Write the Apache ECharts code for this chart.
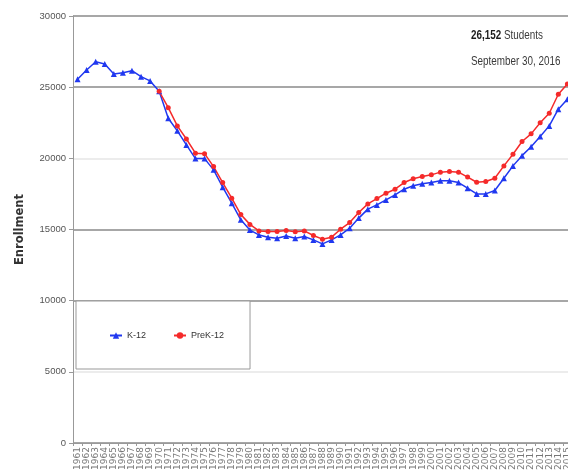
<!DOCTYPE html>
<html>
<head>
<meta charset="utf-8">
<title>Enrollment</title>
<script src="https://cdn.jsdelivr.net/npm/echarts@6/dist/echarts.min.js"></script>
<style>
  html, body { margin: 0; padding: 0; background: #fff; overflow: hidden; }
  /* the plot runs a little past the right edge of the page, as in the printed chart */
  #chart { width: 581px; height: 476px; }
</style>
</head>
<body>
<div id="chart"></div>
<script>
// School years 1961 - 2016
const years = [
  '1961','1962','1963','1964','1965','1966','1967','1968','1969','1970',
  '1971','1972','1973','1974','1975','1976','1977','1978','1979','1980',
  '1981','1982','1983','1984','1985','1986','1987','1988','1989','1990',
  '1991','1992','1993','1994','1995','1996','1997','1998','1999','2000',
  '2001','2002','2003','2004','2005','2006','2007','2008','2009','2010',
  '2011','2012','2013','2014','2015','2016'
];

// K-12 enrollment
const k12 = [
  25560, 26210, 26790, 26630, 25930, 26020, 26160, 25740, 25440, 24710,
  22820, 21930, 20940, 19980, 19980, 19190, 17970, 16850, 15680, 14960,
  14620, 14460, 14390, 14550, 14390, 14510, 14270, 13990, 14270, 14620,
  15090, 15800, 16430, 16730, 17080, 17430, 17830, 18070, 18210, 18300,
  18420, 18420, 18300, 17900, 17500, 17500, 17740, 18600, 19470, 20190,
  20820, 21530, 22280, 23450, 24150, 25050
];

// PreK-12 enrollment (reported from 1970 on)
const prek12 = [
  null, null, null, null, null, null, null, null, null, 24710,
  23560, 22280, 21360, 20360, 20330, 19420, 18300, 17200, 16050, 15360,
  14900, 14860, 14860, 14930, 14840, 14900, 14580, 14320, 14460, 15020,
  15490, 16190, 16800, 17170, 17550, 17830, 18300, 18570, 18720, 18840,
  19030, 19070, 19030, 18680, 18320, 18370, 18600, 19470, 20290, 21180,
  21720, 22500, 23170, 24500, 25230, 26152
];

// Headline note
const noteTotal = '26,152';
const noteUnit = ' Students';
const noteDate = 'September 30, 2016';

const sans = "'Liberation Sans', Arial, sans-serif";
const dark = '#8a8a8a';
const light = '#e6e6e6';

const chart = echarts.init(document.getElementById('chart'), null, { renderer: 'canvas' });

chart.setOption({
  animation: false,
  backgroundColor: '#fff',
  graphic: [
    {
      type: 'text',
      x: 471,
      y: 22,
      scaleX: 0.76,
      z: 10,
      style: {
        text: '{b|' + noteTotal + '}' + noteUnit + '\n' + noteDate,
        font: '13px ' + sans,
        fill: '#3a3a3a',
        lineHeight: 26,
        verticalAlign: 'top',
        align: 'left',
        rich: {
          b: { font: 'bold 13px ' + sans, fill: '#1e1e1e', lineHeight: 26 }
        }
      }
    }
  ],
  legend: {
    data: ['K-12', 'PreK-12'],
    left: 76,
    top: 301,
    orient: 'horizontal',
    padding: [30, 26, 29, 33],
    itemGap: 27,
    itemWidth: 12,
    itemHeight: 8,
    backgroundColor: '#fff',
    borderColor: '#999',
    borderWidth: 1,
    textStyle: { fontFamily: sans, fontSize: 9, color: '#333' }
  },
  grid: { left: 73, right: 0, top: 16, bottom: 33, containLabel: false },
  xAxis: {
    type: 'category',
    data: years,
    boundaryGap: true,
    axisLine: { lineStyle: { color: '#999', width: 1 } },
    axisTick: { show: true, interval: 0, length: 3, lineStyle: { color: '#999' } },
    axisLabel: {
      interval: 0,
      rotate: 90,
      fontSize: 9,
      color: '#777',
      margin: 4,
      fontFamily: 'DejaVu Sans'
    },
    splitLine: { show: false }
  },
  yAxis: {
    type: 'value',
    min: 0,
    max: 30000,
    interval: 5000,
    name: 'Enrollment',
    nameLocation: 'middle',
    nameGap: 47,
    nameRotate: 90,
    nameTextStyle: { fontFamily: 'DejaVu Sans', fontSize: 11.5, fontWeight: 'bold', color: '#333' },
    axisLine: { show: true, lineStyle: { color: '#999', width: 1 } },
    axisTick: { show: true, length: 4, lineStyle: { color: '#999' } },
    axisLabel: {
      fontFamily: sans,
      fontSize: 9.5,
      color: '#555',
      margin: 7,
      formatter: function (v) { return String(v); }
    },
    splitLine: {
      show: true,
      lineStyle: { color: [dark, light, dark, dark, light, dark, dark], width: 1.5 }
    }
  },
  series: [
    {
      name: 'K-12',
      type: 'line',
      data: k12,
      symbol: 'triangle',
      symbolSize: 6,
      showAllSymbol: true,
      lineStyle: { color: '#2038f0', width: 1.5 },
      itemStyle: { color: '#2038f0' }
    },
    {
      name: 'PreK-12',
      type: 'line',
      data: prek12,
      symbol: 'circle',
      symbolSize: 5,
      showAllSymbol: true,
      connectNulls: false,
      lineStyle: { color: '#f52a2a', width: 1.5 },
      itemStyle: { color: '#f52a2a' }
    }
  ]
});
</script>
</body>
</html>
